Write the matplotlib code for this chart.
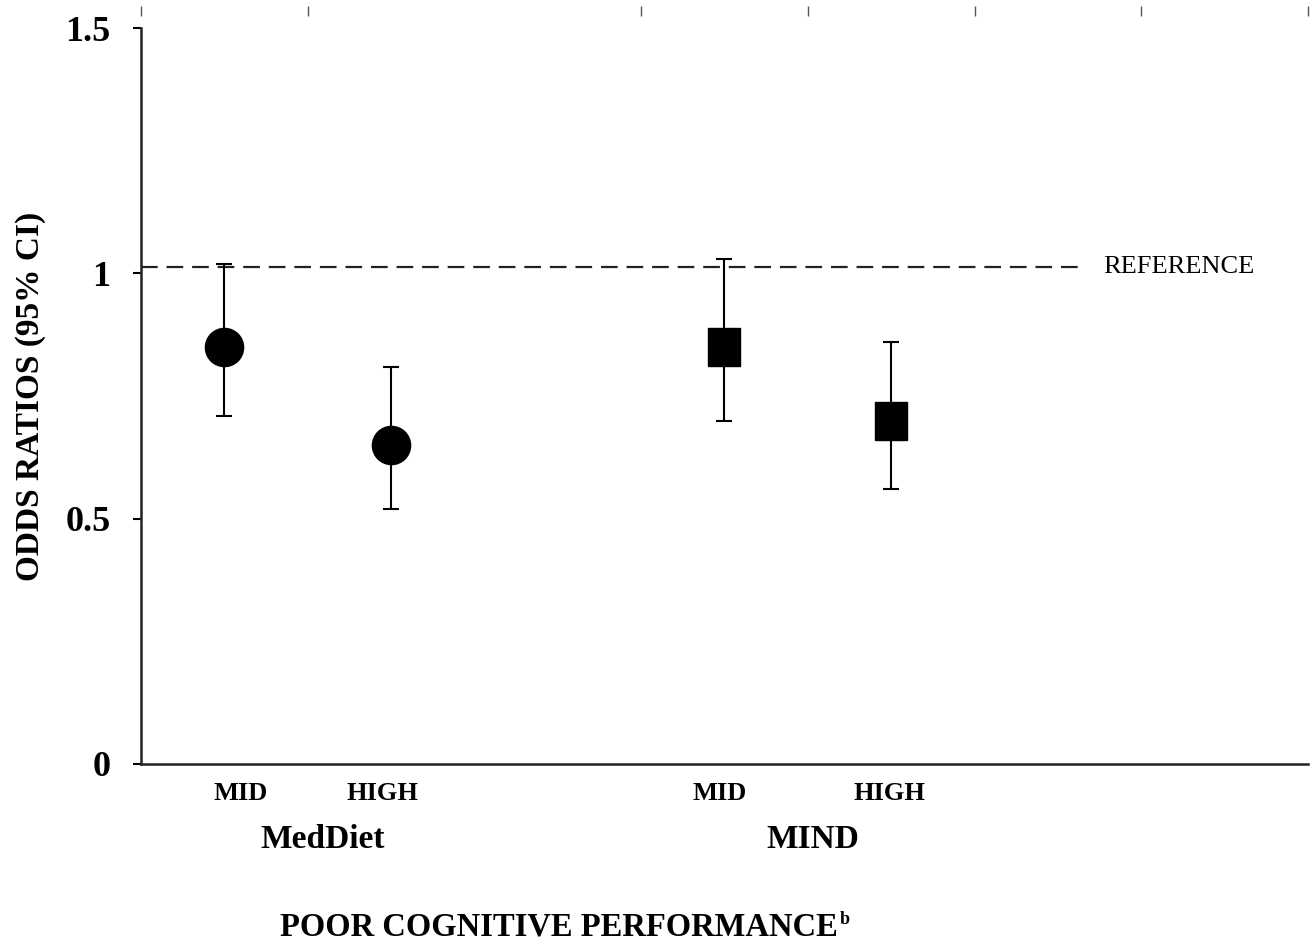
import matplotlib
matplotlib.use("Agg")
import matplotlib.pyplot as plt
from matplotlib.transforms import blended_transform_factory

# odds ratios and 95% CI
groups = ["MedDiet", "MIND"]
levels = ["MID", "HIGH"]
x_pos = [0.5, 1.5, 3.5, 4.5]
odds = [0.85, 0.65, 0.85, 0.70]
ci_low = [0.71, 0.52, 0.70, 0.56]
ci_high = [1.02, 0.81, 1.03, 0.86]
ref_value = 1.012
yticks = [0, 0.5, 1, 1.5]
yticklabels = ["0", "0.5", "1", "1.5"]
top_ticks = [0, 1, 3, 4, 5, 6, 7]

plt.rcParams["font.family"] = ["Liberation Serif", "DejaVu Serif"]

fig = plt.figure(figsize=(13.16, 9.44), dpi=100)
ax = fig.add_axes([0.1071, 0.1907, 0.8868, 0.7796])

err_lo = [o - l for o, l in zip(odds, ci_low)]
err_hi = [h - o for o, h in zip(odds, ci_high)]

rect = [(-0.82, -1), (0.82, -1), (0.82, 1), (-0.82, 1), (-0.82, -1)]
for i in range(4):
  mk = "o" if i < 2 else rect
  ax.errorbar(x_pos[i], odds[i], yerr=[[err_lo[i]], [err_hi[i]]],
              fmt="none", ecolor="black", elinewidth=1.5, capsize=6, capthick=1.5)
  ax.plot(x_pos[i], odds[i], marker=mk, markersize=27.5, color="black",
          linestyle="none", zorder=3)

ax.plot([0, 5.66], [ref_value, ref_value], color="#222222", lw=1.6,
        dashes=(7.5, 4), zorder=1)
ax.text(5.77, ref_value, "REFERENCE", fontsize=19, va="center", ha="left")

ax.set_xlim(0, 7)
ax.set_ylim(0, 1.5)
ax.set_yticks(yticks)
ax.set_yticklabels(yticklabels, fontsize=26, fontweight="bold")
ax.tick_params(axis="y", direction="out", length=6, width=1.5, pad=16)
ax.set_xticks([])
for s in ["top", "right"]:
  ax.spines[s].set_visible(False)
for s in ["left", "bottom"]:
  ax.spines[s].set_linewidth(1.8)
  ax.spines[s].set_color("#222222")

# short ticks above the plot area
sec = ax.secondary_xaxis(1.016)
sec.set_xticks(top_ticks)
sec.set_xticklabels([])
sec.spines["top"].set_visible(False)
sec.tick_params(direction="out", length=7, width=1, colors="#555555")

tr = blended_transform_factory(ax.transData, ax.transAxes)
lab_x = [0.60, 1.45, 3.47, 4.49]
for i in range(4):
  ax.text(lab_x[i], -0.040, levels[i % 2], transform=tr, ha="center", va="center",
          fontsize=19, fontweight="bold")
grp_x = [1.09, 4.03]
for g, gx in zip(groups, grp_x):
  ax.text(gx, -0.103, g, transform=tr, ha="center", va="center",
          fontsize=24, fontweight="bold")

t1 = ax.text(2.51, -0.221, "POOR COGNITIVE PERFORMANCE", transform=tr, ha="center",
             va="center", fontsize=23.5, fontweight="bold")
ax.annotate("b", xy=(1, 1), xycoords=t1, xytext=(1, 0), textcoords="offset points",
            va="top", ha="left", fontsize=13, fontweight="bold")

ax.set_ylabel("ODDS RATIOS (95% CI)", fontsize=24, fontweight="bold", labelpad=14)

fig.savefig("out.png", dpi=100)
